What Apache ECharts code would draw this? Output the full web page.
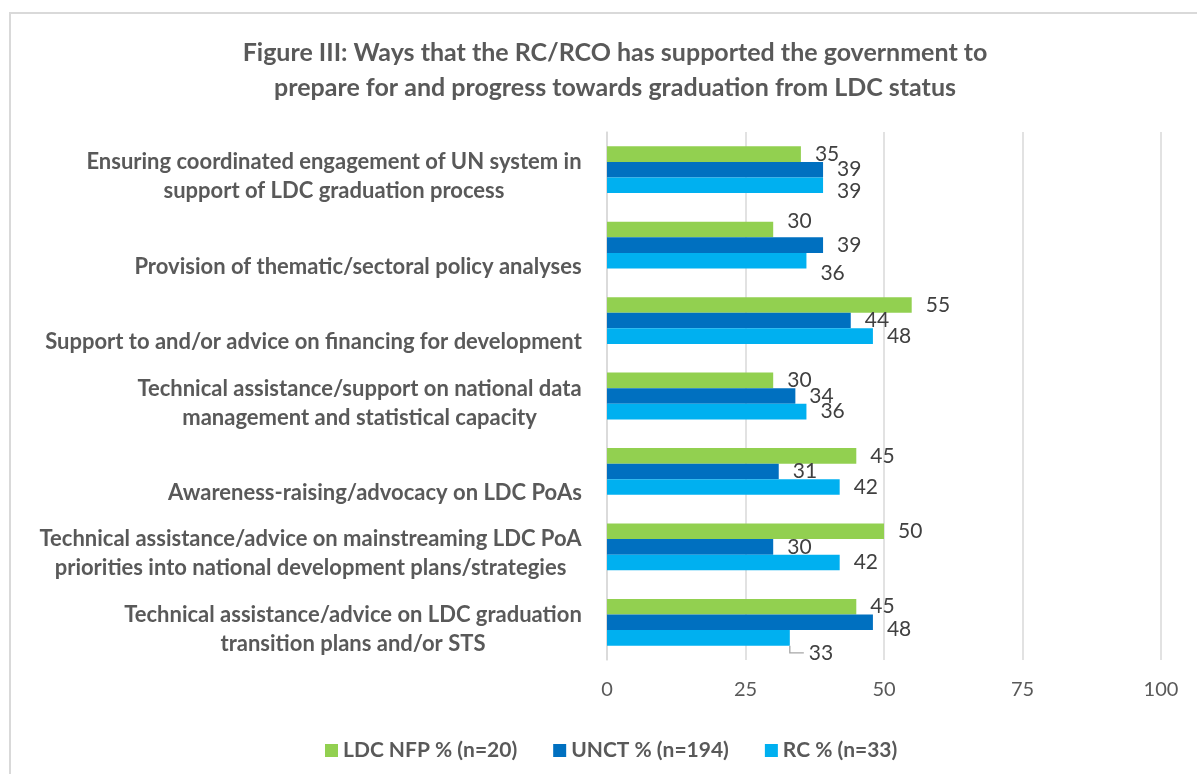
<!DOCTYPE html>
<html>
<head>
<meta charset="utf-8">
<title>Figure III</title>
<script src="https://cdn.jsdelivr.net/npm/echarts@6/dist/echarts.min.js"></script>
<style>
  html, body { margin: 0; padding: 0; background: #ffffff; }
  #chart { width: 1197px; height: 774px; }
</style>
</head>
<body>
<div id="chart"></div>
<script>
// Ways the RC/RCO supported LDC graduation, share of respondents (%)
const categories = [
  'Ensuring coordinated engagement of UN system in\nsupport of LDC graduation process',
  'Provision of thematic/sectoral policy analyses',
  'Support to and/or advice on financing for development',
  'Technical assistance/support on national data\nmanagement and statistical capacity',
  'Awareness-raising/advocacy on LDC PoAs',
  'Technical assistance/advice on mainstreaming LDC PoA\npriorities into national development plans/strategies',
  'Technical assistance/advice on LDC graduation\ntransition plans and/or STS'
];
const seriesNames = ['LDC NFP % (n=20)', 'UNCT % (n=194)', 'RC % (n=33)'];
const ldcNfp = [35, 30, 55, 30, 45, 50, 45];
const unct   = [39, 39, 44, 34, 31, 30, 48];
const rc     = [39, 36, 48, 36, 42, 42, 33];
const xTicks = [0, 25, 50, 75, 100];

const FONT = 'Lato';
const TEXT_GREY = '#595959';
const colors = ['#92D050', '#0070C0', '#00B0F0'];
const LABEL_DISTANCE = 14;

// Hand-placed value labels that were moved off their bars to avoid overlaps
// key: seriesIndex + ':' + dataIndex -> [dx, dy, showLeader]
const labelMoves = {
  '2:0': [0, 6, false],
  '0:1': [0, -8, false],
  '2:1': [0, 13, false],
  '1:6': [0, 7, false],
  '2:6': [5, 15, true]
};

// Category labels: lines centred within the block, block right-aligned to the axis
const labelFontSize = 22;
const measureCtx = document.createElement('canvas').getContext('2d');
measureCtx.font = 'bold ' + labelFontSize + 'px ' + FONT;
function blockWidth(text) {
  return Math.max.apply(null, text.split('\n').map(s => measureCtx.measureText(s).width));
}
const richStyles = {};
categories.forEach((c, i) => {
  richStyles['c' + i] = {
    width: Math.ceil(blockWidth(c)) + 2,
    align: 'center',
    lineHeight: 29,
    fontFamily: FONT,
    fontWeight: 'bold',
    fontSize: labelFontSize,
    color: TEXT_GREY
  };
});

const seriesData = [ldcNfp, unct, rc];
const series = seriesData.map((arr, si) => ({
  name: seriesNames[si],
  type: 'bar',
  barGap: '0%',
  barCategoryGap: '38%',
  itemStyle: { color: colors[si] },
  label: {
    show: true,
    position: 'right',
    distance: LABEL_DISTANCE,
    fontFamily: FONT,
    fontSize: 21,
    color: '#404040'
  },
  data: arr,
  labelLayout: function (p) {
    const mv = labelMoves[p.seriesIndex + ':' + p.dataIndex];
    return mv ? { dx: mv[0], dy: mv[1] } : {};
  }
}));

const chart = echarts.init(document.getElementById('chart'), null, { renderer: 'canvas' });
const baseGraphics = [{
  type: 'rect',
  silent: true,
  shape: { x: 10, y: 13, width: 1400, height: 900 },
  style: { fill: 'none', stroke: '#d9d9d9', lineWidth: 2 }
}];
chart.setOption({
  backgroundColor: '#ffffff',
  animation: false,
  textStyle: { fontFamily: FONT },
  graphic: baseGraphics,
  title: {
    text: 'Figure III: Ways that the RC/RCO has supported the government to\nprepare for and progress towards graduation from LDC status',
    left: 610,
    textAlign: 'center',
    top: 30,
    textStyle: {
      fontFamily: FONT,
      fontWeight: 'bold',
      fontSize: 25,
      lineHeight: 35,
      color: TEXT_GREY
    }
  },
  legend: {
    top: 735,
    left: 320,
    itemWidth: 13,
    itemHeight: 13,
    itemGap: 36,
    icon: 'rect',
    textStyle: {
      fontFamily: FONT,
      fontWeight: 'bold',
      fontSize: 21,
      color: TEXT_GREY
    },
    data: seriesNames
  },
  grid: { left: 607, right: 36, top: 132, bottom: 114, containLabel: false },
  xAxis: {
    type: 'value',
    min: xTicks[0],
    max: xTicks[xTicks.length - 1],
    interval: xTicks[1] - xTicks[0],
    axisLine: { show: false },
    axisTick: { show: false },
    splitLine: { show: true, lineStyle: { color: '#d9d9d9', width: 1.5 } },
    axisLabel: {
      margin: 20,
      fontFamily: FONT,
      fontSize: 20,
      color: TEXT_GREY
    }
  },
  yAxis: {
    type: 'category',
    inverse: true,
    data: categories,
    axisLine: { show: true, lineStyle: { color: '#d9d9d9', width: 1.5 } },
    axisTick: { show: false },
    axisLabel: {
      margin: 24,
      padding: [14, 0, 0, 0],
      formatter: function (value, idx) {
        const lines = value.split('\n');
        if (lines.length === 1) lines.unshift(' ');
        return lines.map(l => '{c' + idx + '|' + l + '}').join('\n');
      },
      rich: richStyles
    }
  },
  series: series
});

// Elbow leader lines for the labels that sit well away from their bars,
// anchored on the bar layout computed by the chart
const leaders = [];
Object.keys(labelMoves).forEach(key => {
  const mv = labelMoves[key];
  if (!mv[2]) return;
  const parts = key.split(':').map(Number);
  const data = chart.getModel().getSeriesByIndex(parts[0]).getData();
  const lay = data.getItemLayout(parts[1]);
  const endX = lay.x + lay.width;
  const top = Math.min(lay.y, lay.y + lay.height);
  const bottom = Math.max(lay.y, lay.y + lay.height);
  const labelY = (top + bottom) / 2 + mv[1];
  leaders.push({
    type: 'polyline',
    silent: true,
    z: 10,
    shape: { points: [[endX, bottom], [endX, labelY], [endX + LABEL_DISTANCE + mv[0] - 5, labelY]] },
    style: { fill: 'none', stroke: '#a6a6a6', lineWidth: 1.3 }
  });
});
chart.setOption({ graphic: baseGraphics.concat(leaders) });
</script>
</body>
</html>
